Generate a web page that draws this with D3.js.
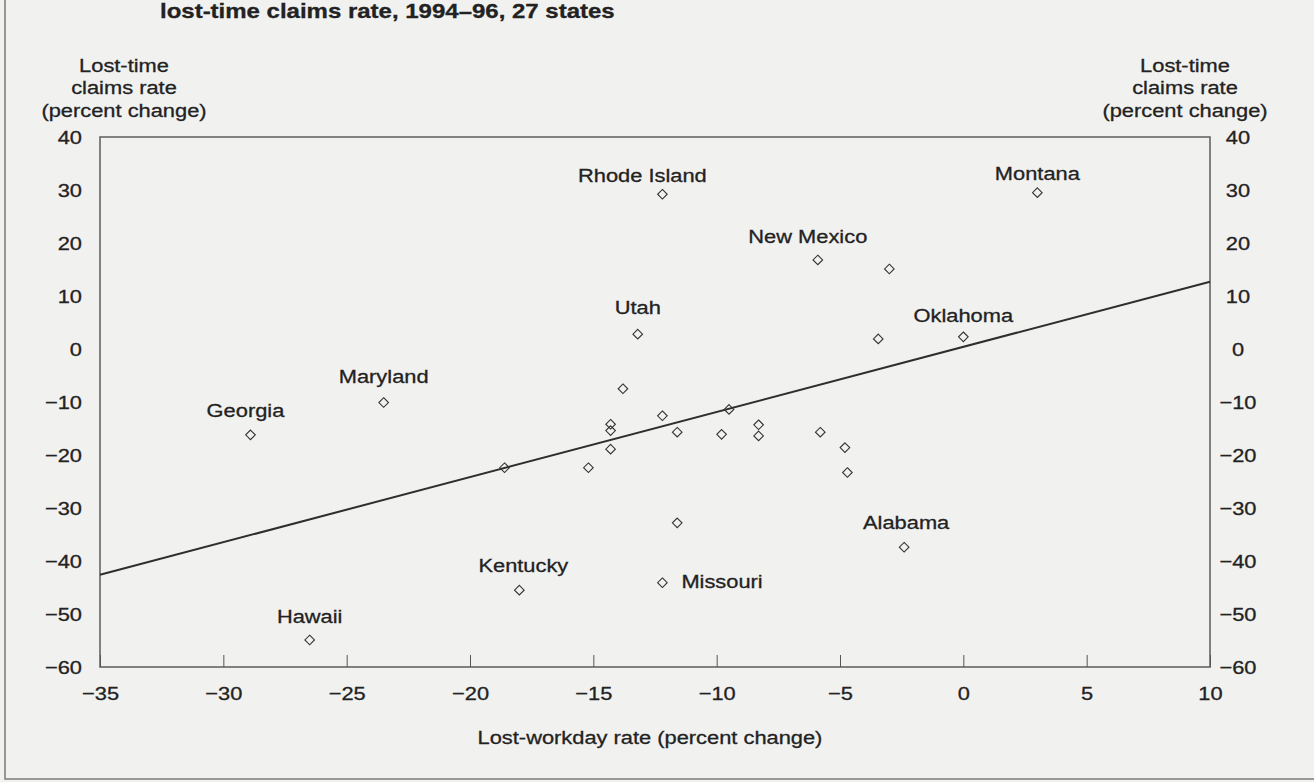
<!DOCTYPE html>
<html>
<head>
<meta charset="utf-8">
<script src="https://cdn.jsdelivr.net/npm/d3@7"></script>
<style>
  html, body { margin: 0; padding: 0; background: #f1f1f0; }
  svg { display: block; }
  text { font-family: "Liberation Sans", Arial, Helvetica, sans-serif; fill: #222; stroke: #222; stroke-width: 0.3px; }
</style>
</head>
<body>
<svg id="chart" width="1314" height="782"></svg>
<script>
// Percent change by state, lost-workday rate vs. lost-time claims rate
const states = ["Montana", "Rhode Island", "New Mexico", "", "Utah", "", "Oklahoma",
  "Maryland", "Georgia", "", "", "", "", "", "", "", "", "", "", "", "", "", "", "", "",
  "Alabama", "Kentucky", "Missouri", "Hawaii"];
const lostWorkday = [3.0, -12.2, -5.9, -3.0, -13.2, -3.45, 0.0,
  -23.5, -28.9, -13.8, -14.3, -14.3, -14.3, -12.2, -11.6, -9.5, -9.8, -8.3, -8.3, -5.8, -4.8, -4.7, -18.6, -15.2, -11.6,
  -2.4, -18.0, -12.2, -26.5];
const lostTime = [29.5, 29.2, 16.8, 15.1, 2.8, 1.9, 2.3,
  -10.1, -16.2, -7.5, -14.2, -15.4, -18.9, -12.6, -15.7, -11.4, -16.1, -14.3, -16.4, -15.7, -18.6, -23.3, -22.4, -22.4, -32.8,
  -37.4, -45.5, -44.1, -54.9];

// Fitted regression line, evaluated at the ends of the x domain
const fitX = [-35, 10];
const fitY = [-42.6, 12.7];

const xTicks = [-35, -30, -25, -20, -15, -10, -5, 0, 5, 10];
const yTicks = [40, 30, 20, 10, 0, -10, -20, -30, -40, -50, -60];

const titleText = "lost-time claims rate, 1994\u201396, 27 states";
const yTitle = ["Lost-time", "claims rate", "(percent change)"];
const xTitle = "Lost-workday rate (percent change)";

// Label placement relative to each labelled marker
const labelLayout = {
  "Montana": [0, -12.7, "middle"],
  "Rhode Island": [-20, -12.6, "middle"],
  "New Mexico": [-10, -17.3, "middle"],
  "Utah": [0, -20, "middle"],
  "Oklahoma": [0, -15, "middle"],
  "Maryland": [0, -19.4, "middle"],
  "Georgia": [-5, -18, "middle"],
  "Hawaii": [0, -17.3, "middle"],
  "Kentucky": [4, -18.3, "middle"],
  "Alabama": [2, -18, "middle"],
  "Missouri": [19, 5.6, "start"]
};

const W = 1314, H = 782;
const plot = { left: 100, right: 1210, top: 137, bottom: 667 };
const SX = 1.15;        // horizontal stretch of the type face
const FS = 19;          // base font size

const svg = d3.select("#chart");

svg.append("rect").attr("width", W).attr("height", H).attr("fill", "#f1f1f0");

// Outer frame
svg.append("rect")
  .attr("x", 5).attr("y", -10).attr("width", W + 20).attr("height", 789)
  .attr("fill", "none").attr("stroke", "#7a7a7a").attr("stroke-width", 1.5);

const x = d3.scaleLinear().domain([-35, 10]).range([plot.left, plot.right]);
const y = d3.scaleLinear().domain([-60, 40]).range([plot.bottom, plot.top]);

function stretch(sel) {
  sel.each(function () {
    const t = d3.select(this);
    const xv = +(t.attr("x") || 0);
    t.attr("x", xv / SX).attr("transform", `scale(${SX},1)`);
  });
}

// Title line at the top edge
svg.append("text")
  .attr("x", 160 / 1.2).attr("y", 18)
  .attr("transform", "scale(1.2,1)")
  .attr("font-size", 20).attr("font-weight", "bold")
  .text(titleText);

// Plot frame
svg.append("rect")
  .attr("x", plot.left).attr("y", plot.top)
  .attr("width", plot.right - plot.left).attr("height", plot.bottom - plot.top)
  .attr("fill", "none").attr("stroke", "#666").attr("stroke-width", 1.6);

// X tick marks (inside, pointing up)
const xTickAxis = svg.append("g")
  .attr("transform", `translate(0,${plot.bottom})`)
  .call(d3.axisTop(x).tickValues(xTicks).tickSize(12).tickFormat(""));
xTickAxis.select(".domain").remove();
xTickAxis.selectAll("line").attr("stroke", "#555").attr("stroke-width", 1);

const fmt = d => (d < 0 ? "\u2212" + Math.abs(d) : String(d));

// X tick labels
const xLab = svg.append("g")
  .attr("transform", `translate(0,${plot.bottom})`)
  .call(d3.axisBottom(x).tickValues(xTicks).tickSize(0).tickPadding(20).tickFormat(fmt));
xLab.select(".domain").remove();
xLab.selectAll("text").attr("font-size", FS).attr("font-family", null).attr("fill", "#222");
stretch(xLab.selectAll("text"));

// Left Y tick labels
const yLeft = svg.append("g")
  .attr("transform", `translate(${plot.left},0)`)
  .call(d3.axisLeft(y).tickValues(yTicks).tickSize(0).tickPadding(18).tickFormat(fmt));
yLeft.select(".domain").remove();
yLeft.selectAll("text").attr("font-size", FS).attr("font-family", null).attr("fill", "#222");
stretch(yLeft.selectAll("text"));

// Right Y tick labels
const yRight = svg.append("g")
  .attr("transform", `translate(${plot.right},0)`)
  .call(d3.axisRight(y).tickValues(yTicks).tickSize(0).tickPadding(28).tickFormat(fmt));
yRight.select(".domain").remove();
yRight.selectAll("text").attr("font-size", FS).attr("font-family", null)
  .attr("fill", "#222").attr("text-anchor", "middle");
stretch(yRight.selectAll("text"));

// Y axis titles on both sides
[124, 1185].forEach(cx => {
  const g = svg.append("g").attr("transform", `translate(${cx},0)`);
  yTitle.forEach((line, i) => {
    g.append("text")
      .attr("x", 0).attr("y", 72 + i * 22.5)
      .attr("text-anchor", "middle").attr("font-size", FS)
      .attr("transform", `scale(${SX},1)`)
      .text(line);
  });
});

// X axis title
svg.append("text")
  .attr("x", 650 / SX).attr("y", 744)
  .attr("text-anchor", "middle").attr("font-size", FS)
  .attr("transform", `scale(${SX},1)`)
  .text(xTitle);

// Regression line
svg.append("line")
  .attr("x1", x(fitX[0])).attr("y1", y(fitY[0]))
  .attr("x2", x(fitX[1])).attr("y2", y(fitY[1]))
  .attr("stroke", "#2e2e2e").attr("stroke-width", 2);

// Open diamond marker, tip to tip equal to sqrt(size)
const openDiamond = {
  draw(ctx, size) {
    const r = Math.sqrt(size) / 2;
    ctx.moveTo(0, -r); ctx.lineTo(r, 0); ctx.lineTo(0, r); ctx.lineTo(-r, 0); ctx.closePath();
  }
};

// Data points
const pts = states.map((s, i) => ({ s, x: lostWorkday[i], y: lostTime[i] }));
svg.append("g").selectAll("path")
  .data(pts).join("path")
  .attr("d", d3.symbol().type(openDiamond).size(9.6 * 9.6))
  .attr("transform", d => `translate(${x(d.x)},${y(d.y)})`)
  .attr("fill", "none").attr("stroke", "#333").attr("stroke-width", 1.1);

// State labels
const labG = svg.append("g");
pts.filter(d => d.s).forEach(d => {
  const [dx, dy, anchor] = labelLayout[d.s] || [0, -16, "middle"];
  labG.append("g")
    .attr("transform", `translate(${x(d.x) + dx},${y(d.y) + dy})`)
    .append("text")
    .attr("text-anchor", anchor).attr("font-size", FS)
    .attr("transform", `scale(${SX},1)`)
    .text(d.s);
});
</script>
</body>
</html>
